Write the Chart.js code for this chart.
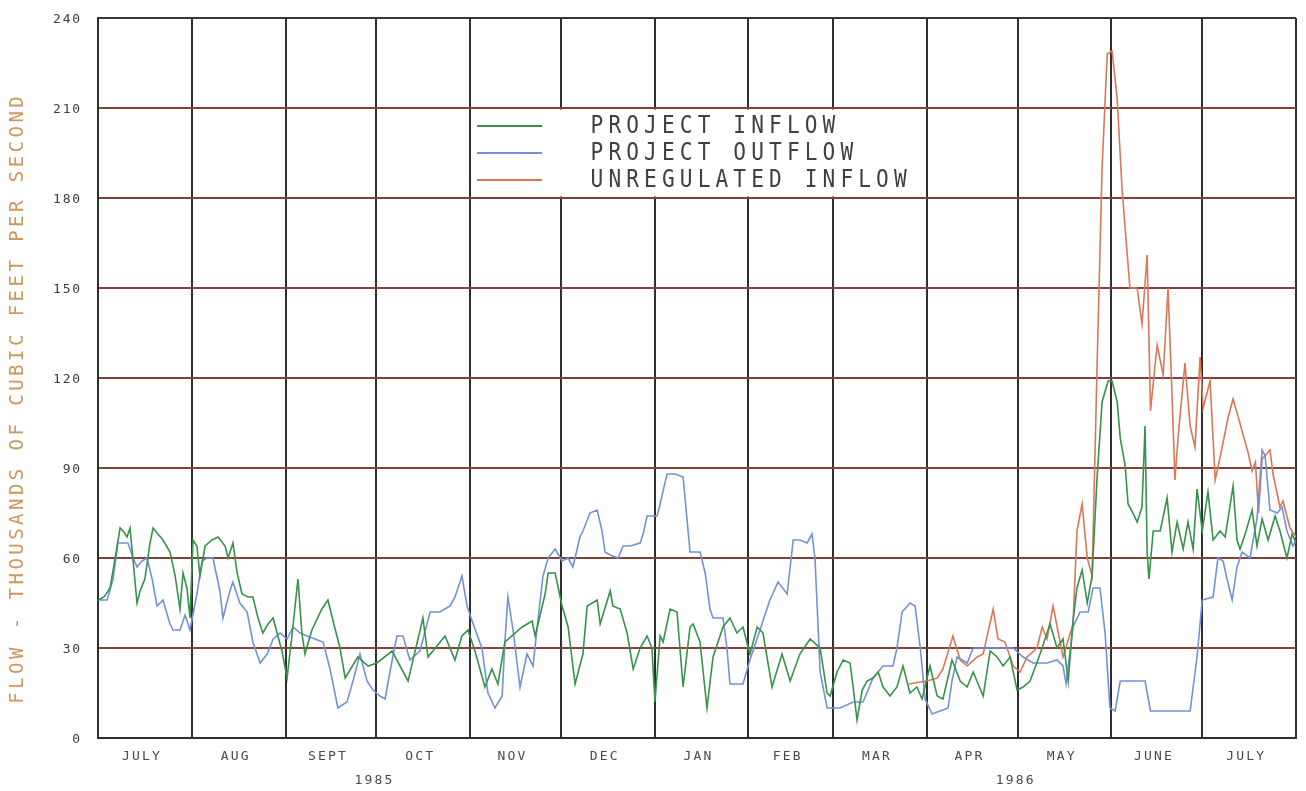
<!DOCTYPE html>
<html>
<head>
<meta charset="utf-8">
<script src="https://cdn.jsdelivr.net/npm/chart.js@4.4.1/dist/chart.umd.min.js"></script>
<style>
  html, body { margin: 0; padding: 0; background: #fff; }
  canvas { display: block; }
</style>
</head>
<body>
<canvas id="flow" width="1306" height="791"></canvas>
<script>
// Day 0 = 1 July 1985; flows in thousands of cubic feet per second.
const monthStart = [0, 31, 62, 92, 123, 153, 184, 215, 243, 274, 304, 335, 365, 396];
const monthLabels = ['JULY', 'AUG', 'SEPT', 'OCT', 'NOV', 'DEC', 'JAN', 'FEB', 'MAR', 'APR', 'MAY', 'JUNE', 'JULY'];
const yearLabels = ['1985', '1986'];
const yearAtDay = [92, 304];
const flowTicks = [0, 30, 60, 90, 120, 150, 180, 210, 240];
const seriesNames = ['PROJECT INFLOW', 'PROJECT OUTFLOW', 'UNREGULATED INFLOW'];

const inflowDay = [0,2,4,5.5,7.3,8.3,9.6,10.6,11.6,12.9,
  13.9,15.5,17.2,18.2,19.8,21.5,23.8,25.5,27.1,28.1,
  29.4,30.4,31.4,32.7,33.7,35.4,37.7,39.7,42,43,
  44.6,46,47.6,49.6,51.2,52.9,54.5,56.2,57.9,59.2,
  60.8,62.5,64.1,66.1,67.4,68.4,70.7,74,76,77.7,
  80,81.7,85.9,89.3,92.2,97.2,102.5,107.4,109.1,114.7,
  118,120.3,122.3,124.6,127.9,130.2,132.2,134.5,140.2,143.5,
  144.5,147.8,148.8,151.1,153.4,155.4,157.7,160.3,161.7,165,
  166,169.3,170.2,172.6,174.9,176.9,179.2,181.5,183.1,184.1,
  185.8,186.8,189.1,191.4,193.4,195.7,196.7,199,201.3,203.3,
  206.6,208.9,211.2,213.2,215.5,217.9,219.8,222.8,226.1,228.8,
  232,235.4,238.7,241,242,244.3,246.3,248.6,249.6,250.9,
  252.6,254.2,256.2,257.9,259.5,261.8,264.1,266.1,268.4,270.7,
  272.4,275,277.4,279.3,282.3,285,287.3,289.3,292.6,294.9,
  297.2,299.2,301.5,303.8,305.8,308.1,311.4,313.7,314.7,317,
  319,320.7,322.3,323.6,325.3,327,328.6,330.2,331.9,333.9,
  335.2,336.9,337.9,339.5,340.5,342.1,343.5,345.1,346.1,346.8,
  347.4,348.8,351.1,353.4,355,356.7,358.7,360.3,362,363.3,
  365,366.9,368.6,370.9,372.6,375.2,376.5,377.5,379.2,381.5,
  383.1,384.8,386.8,389.1,390.7,393,394.7,396];
const inflowFlow = [46,47,50,59,70,69,67,70,59,45,
  49,53,65,70,68,66,62,54,43,55,
  50,40,66,64,54,64,66,67,64,60,
  65,55,48,47,47,40,35,38,40,35,
  29,20,34,53,35,28,36,43,46,39,
  30,20,27,24,25,29,19,40,27,34,
  26,34,36,29,17,23,18,32,37,39,
  34,48,55,55,44,37,18,28,44,46,
  38,49,44,43,35,23,30,34,30,12,
  34,32,43,42,17,37,38,32,10,27,
  37,40,35,37,28,37,35,17,28,19,
  28,33,30,15,14,22,26,25,17,6,
  16,19,20,22,17,14,17,24,15,17,
  13,24,14,13,26,19,17,22,14,29,
  27,24,27,16,17,19,28,35,38,30,
  33,19,39,50,56,45,54,86,112,119,
  119,112,100,91,78,75,72,77,104,62,
  53,69,69,80,62,72,63,72,63,83,
  69,82,66,69,67,84,66,63,68,76,
  64,73,66,74,69,60,68,65];

const outflowDay = [0,3,5,6.6,9.9,11.6,12.9,14.5,16.2,17.9,
  19.5,21.5,23.8,24.8,27.1,28.8,30.4,32.7,34.4,36,
  38,40.3,41.3,43.6,44.6,46.9,49.3,51.2,53.6,55.9,
  57.9,60.2,62.5,64.5,66.8,69.1,71.7,74.4,76.7,79.3,
  82.3,84.3,86.6,88.9,90.9,93.2,94.9,96.5,98.8,100.8,
  103.1,106.4,109.8,113,116.4,118,120.3,122,124,126.9,
  128.9,131.2,133.6,134.5,135.5,137.2,139.5,141.8,143.8,145.5,
  147.1,148.8,151.1,153.4,155.4,157,159.3,160.3,162.6,165,
  166.6,167.6,169.3,171.9,173.6,175.9,179.2,180.2,181.5,184.8,
  185.8,188.1,190.7,193.4,195.7,199,200.7,202.3,203.3,206.6,
  207.9,208.9,213.2,215.5,218.8,222.1,224.8,227.8,229.8,232,
  234.4,236,237,238.7,241,245.3,249.6,252.9,256.2,259.5,
  262.8,264.1,265.8,268.4,270.1,271.8,273.4,275.7,278.3,281,
  282.3,284,287.3,289.3,302.5,305.8,309.1,313.7,317,319,
  320,322.3,324.6,327.3,328.9,331.2,332.9,334.5,336.2,337.9,
  346.1,347.9,361,363.3,365,368.6,370.2,371.9,373.2,374.9,
  376.5,378.2,380.8,383.1,384.8,385.8,387.4,389.8,391.4,393,
  395,396];
const outflowFlow = [46,46,53,65,65,60,57,59,60,53,
  44,46,38,36,36,41,36,48,59,60,
  60,49,40,49,52,45,42,32,25,28,
  33,35,33,37,35,34,33,32,23,10,
  12,19,28,19,16,14,13,22,34,34,
  26,29,42,42,44,47,54,44,38,30,
  15,10,14,32,47,36,17,28,24,40,
  54,60,63,59,60,57,67,69,75,76,
  69,62,61,60,64,64,65,68,74,74,
  78,88,88,87,62,62,55,43,40,40,
  30,18,18,26,36,46,52,48,66,66,
  65,68,60,22,10,10,12,12,20,24,
  24,30,42,45,44,30,13,8,9,10,
  19,27,25,30,30,27,25,25,26,24,
  18,37,42,42,50,50,35,10,9,19,
  19,9,9,27,46,47,60,59,53,46,
  57,62,60,73,96,94,76,75,77,69,
  64,66];

const unregDay = [268,274,277.4,279.3,282.6,285,287.3,290.6,292.6,295.9,
  297.5,299.8,302.5,304.8,307.1,310.4,312.1,313.7,315.7,319,
  322.3,323.6,325.3,327,328.6,330.2,331.9,333.6,335.2,336.9,
  338.5,341.1,343.5,345.1,346.8,347.9,350.1,352.1,353.7,355,
  356,357,359.3,361,362.6,364.3,365.3,367.6,369.3,371,
  373.6,375.2,376.9,380.2,381.5,382.6,383.6,384.8,387.4,388.4,
  390.7,391.7,394,396];
const unregFlow = [18,19,20,23,34,26,24,27,28,43,
  33,32,24,22,27,30,37,33,44,27,
  38,69,78,60,54,122,190,228,229,213,
  183,150,150,138,161,109,131,121,150,115,
  86,100,125,104,97,127,110,119,86,94,
  107,113,107,95,89,92,75,93,96,88,
  77,79,70,67];

const seriesColors = ['#35934a', '#7292d8', '#dc7656'];

function points(days, flows) {
  return days.map((d, i) => ({ x: d, y: flows[i] }));
}

// Draw a string one glyph at a time on a fixed pitch (plotter style lettering).
function spacedText(ctx, text, x, y, pitch, align) {
  const n = text.length;
  let start;
  if (align === 'center') start = x - pitch * n / 2 + pitch / 2;
  else if (align === 'right') start = x - pitch * n + pitch / 2;
  else start = x + pitch / 2;
  ctx.textAlign = 'center';
  for (let i = 0; i < n; i++) ctx.fillText(text[i], start + i * pitch, y);
}

const decor = {
  id: 'decor',
  beforeDraw(chart) {
    const ctx = chart.ctx;
    ctx.save();
    ctx.fillStyle = '#ffffff';
    ctx.fillRect(0, 0, chart.width, chart.height);
    ctx.restore();
  },
  beforeDatasetsDraw(chart) {
    const ctx = chart.ctx, xs = chart.scales.x, ys = chart.scales.y;
    // legend panel spanning the NOV..APR columns between the 180 and 210 lines
    const x1 = xs.getPixelForValue(monthStart[4]) + 1.5;
    const x2 = xs.getPixelForValue(monthStart[9]) - 1.5;
    const y1 = ys.getPixelForValue(210) + 1.5;
    const y2 = ys.getPixelForValue(180) - 1.5;
    ctx.save();
    ctx.fillStyle = '#ffffff';
    ctx.fillRect(x1, y1, x2 - x1, y2 - y1);
    ctx.restore();
  },
  afterDraw(chart) {
    const ctx = chart.ctx, xs = chart.scales.x, ys = chart.scales.y;
    ctx.save();
    ctx.textBaseline = 'middle';

    // legend entries
    const rowY = [126, 153, 180];
    ctx.font = '23px "DejaVu Sans Mono"';
    ctx.fillStyle = '#404040';
    seriesNames.forEach((name, i) => {
      ctx.strokeStyle = seriesColors[i];
      ctx.lineWidth = 2;
      ctx.beginPath();
      ctx.moveTo(477, rowY[i]);
      ctx.lineTo(542, rowY[i]);
      ctx.stroke();
      ctx.save();
      ctx.translate(588, rowY[i] + 1);
      ctx.scale(0.92, 1.08);
      spacedText(ctx, name, 0, 0, 19.4, 'left');
      ctx.restore();
    });

    // flow tick labels
    ctx.font = '13px "DejaVu Sans Mono"';
    ctx.fillStyle = '#3d3d3d';
    flowTicks.forEach(v => {
      spacedText(ctx, String(v), 81, ys.getPixelForValue(v) + 2, 9.6, 'right');
    });

    // month and year labels
    ctx.fillStyle = '#4a4a4a';
    monthLabels.forEach((m, i) => {
      const cx = (xs.getPixelForValue(monthStart[i]) + xs.getPixelForValue(monthStart[i + 1])) / 2 - 4;
      spacedText(ctx, m, cx, 757, 10, 'center');
    });
    yearLabels.forEach((yl, i) => {
      spacedText(ctx, yl, xs.getPixelForValue(yearAtDay[i]) - 3, 781, 10, 'center');
    });

    // vertical axis title
    ctx.translate(18, 400);
    ctx.rotate(-Math.PI / 2);
    ctx.font = '19px "DejaVu Sans Mono"';
    ctx.fillStyle = '#cc985c';
    spacedText(ctx, 'FLOW - THOUSANDS OF CUBIC FEET PER SECOND', 0, 0, 14.9, 'center');
    ctx.restore();
  }
};

const lineStyle = { borderWidth: 1.6, pointRadius: 0, tension: 0, fill: false };

new Chart(document.getElementById('flow'), {
  type: 'line',
  data: {
    datasets: [
      Object.assign({ label: seriesNames[0], data: points(inflowDay, inflowFlow), borderColor: seriesColors[0] }, lineStyle),
      Object.assign({ label: seriesNames[1], data: points(outflowDay, outflowFlow), borderColor: seriesColors[1] }, lineStyle),
      Object.assign({ label: seriesNames[2], data: points(unregDay, unregFlow), borderColor: seriesColors[2] }, lineStyle)
    ]
  },
  options: {
    responsive: false,
    animation: false,
    devicePixelRatio: 1,
    layout: { padding: { left: 0, top: 18, right: 10, bottom: 0 } },
    plugins: { legend: { display: false }, tooltip: { enabled: false } },
    scales: {
      x: {
        type: 'linear',
        min: 0,
        max: 396,
        afterBuildTicks: s => { s.ticks = monthStart.map(v => ({ value: v })); },
        afterFit: s => { s.height = 53; },
        ticks: { display: false },
        grid: { color: '#2e2e2e', lineWidth: 2, drawTicks: false },
        border: { color: '#2e2e2e', width: 2 }
      },
      y: {
        min: 0,
        max: 240,
        afterBuildTicks: s => { s.ticks = flowTicks.map(v => ({ value: v })); },
        afterFit: s => { s.width = 98; },
        ticks: { display: false },
        grid: {
          color: c => (c.tick.value === 0 || c.tick.value === 240) ? '#3a3432' : '#80423b',
          lineWidth: 2,
          drawTicks: false
        },
        border: { color: '#2e2e2e', width: 2 }
      }
    }
  },
  plugins: [decor]
});
</script>
</body>
</html>
